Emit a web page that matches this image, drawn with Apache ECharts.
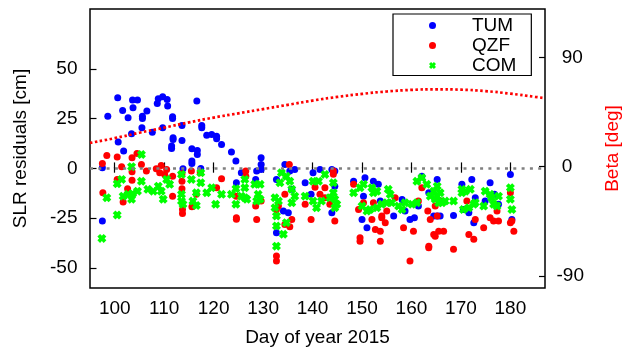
<!DOCTYPE html>
<html>
<head>
<meta charset="utf-8">
<script src="https://cdn.jsdelivr.net/npm/echarts@6/dist/echarts.min.js"></script>
<style>
  html, body { margin: 0; padding: 0; background: #fff; }
  #slrChart { width: 631px; height: 351px; }
</style>
</head>
<body>
<div id="slrChart"></div>
<script>
// ---- data ----
var dayTicks = [100, 110, 120, 130, 140, 150, 160, 170, 180];
var cmTicks = [-50, -25, 0, 25, 50];
var betaTicks = [-90, 0, 90];

// [day of year, residual cm]
var tumData = [
    [97.5, -26.4], [97.5, 0.3], [98.6, 26.2], [100.6, 35.5], [100.7, 13.2], [101.6, 29.1], [101.8, 8.7],
    [102.7, 25.4], [103.4, 17.4], [103.6, 34.3], [103.7, 30.4], [104.6, 34.3], [105.5, 20.4], [105.6, 26.2],
    [105.6, 25], [106.5, 28.8], [107.6, 18.2], [108.6, 32.6], [108.8, 35], [109.7, 36], [109.7, 20.4],
    [110.6, 34.6], [110.7, 31.3], [111.7, 25.9], [111.7, 25], [111.8, 15.4], [111.8, 14.5], [111.5, 11.2],
    [111.5, 10], [113.6, 21.6], [113.6, 14], [113.8, -0.2], [115.6, 9.9], [115.6, 3.7], [115.6, 2.5],
    [116.6, 33.8], [116.7, 9], [116.7, 7], [117.4, 0], [117.6, 21.6], [117.6, 20.4], [118.6, 16.6],
    [119.6, 17], [120.6, 16.2], [120.6, 14.9], [121.6, 12], [123.6, 8.2], [124.5, 3.7], [124.6, -7.2],
    [125.6, -2.2], [128.5, -5.5], [128.7, -1.3], [129.6, 5.4], [129.6, 2], [129.6, -0.5], [132.7, -5.5],
    [132.7, -32.3], [134.1, -21.4], [134.4, 2], [135.1, -22.2], [135.4, -1.3], [135.8, -10.5], [136.4, -0.5],
    [138.5, -7.2], [139.7, -13], [140.1, -2.2], [141.5, -0.5], [143.9, -0.5], [143.9, -22.2], [144.5, -1.3],
    [144.5, -8.9], [148.3, -6.4], [150.6, -4.7], [150.3, -13.9], [152.3, -6.4], [153.3, -8], [150, -25.6],
    [151, -29.8], [153.7, -16.4], [156.4, -23.9], [158.1, -15.6], [158.7, -21.4], [159.7, -25.6], [160.6, -24.7],
    [161.4, -18.9], [162.1, -3.9], [163.5, -12.2], [164.5, -23.9], [165.2, -5.5], [165.2, -23.9], [165.8, -23.9],
    [165.8, -16.4], [172.2, -5.5], [170.2, -8], [168.5, -23.6], [171.6, -22.2], [172.9, -14.7], [172.6, -27.2],
    [170.5, -20.6], [175.9, -7.2], [174.9, -16.4], [177.6, -18], [180, -3], [180.3, -25.6], [176.8, -13]
];
var qzfData = [
    [97.5, 2.5], [98.4, 6.5], [97.6, -12.2], [100.5, 5.7], [101.4, 0.9], [100.5, -5.5], [101.7, -16.9],
    [102.6, -10.2], [103.5, 5.4], [103.5, -1.7], [103.5, -5.9], [104.5, 7.5], [105.4, 2], [106.4, -1.3],
    [108.4, -0.2], [109.4, 1.5], [110.5, -0.5], [109.1, -2.2], [110.1, -3], [111.7, -3.9], [111.7, -13.9],
    [113.6, -2.7], [113.6, -6.4], [113.6, -10.2], [113.7, -20.6], [113.7, -22.6], [115.5, -1.3], [115.6, -19.2],
    [117.3, -2.2], [116.5, -13], [121.6, -5.2], [120.6, -9.7], [124.6, -13.9], [124.6, -24.7], [124.6, -25.5],
    [126.5, -1.3], [126.5, -3.9], [128.7, -25.6], [128.5, -18.9], [129.6, -16.4], [133.1, -18.9], [132.7, -20.6],
    [134.4, -13], [135.3, 2], [135.8, -25.6], [135.4, -29.3], [134.4, -28.1], [132.7, -44], [132.7, -46.5],
    [138.5, -18], [139.7, -25.6], [141.5, -13], [142.5, -9.7], [142.5, -14.7], [144.2, -1.3], [144.2, -2.9],
    [144.5, -26.4], [143.5, -18], [140.5, -9.5], [148.3, -8], [149.3, -20.6], [149.6, -34.8], [149.6, -36.5],
    [150.3, -17.2], [152, -25.6], [152.3, -17.2], [152.7, -30.6], [153.7, -31.5], [153.7, -36.5], [154, -23.9],
    [154, -24.7], [154.7, -27.2], [155, -21.4], [156.7, -14.7], [158.4, -29.8], [159.7, -46.5], [160.4, -31.5],
    [161.4, -16.4], [162.1, -9.7], [163.3, -21.4], [163.5, -39], [163.5, -39.8], [163.8, -25.6], [164.5, -33.1],
    [164.8, -34], [164.8, -18.9], [165.2, -23.9], [165.8, -16.4], [165.5, -31.5], [166.5, -31.5], [168.5, -40.6],
    [171.6, -33.1], [172.6, -35.6], [171.2, -16.4], [172.9, -25.6], [174.6, -29.8], [175.9, -24.7], [176.6, -26.4],
    [177.6, -26.4], [177.3, -21.4], [180, -27.2], [180.7, -31.5], [180.3, -26.4], [180, -12.2]
];
var comData = [
    [97.4, -35.1], [98.4, -14.7], [100.5, -23.4], [100.5, -7.7], [101.4, -5.5], [101.7, -13.9], [102.7, -13],
    [103.4, -15.5], [103.6, -12.7], [103.4, 0.9], [104.6, -11.4], [105.4, 7], [105.4, -6.4], [106.7, -10.5],
    [107.8, -11.4], [108.8, -8.9], [109.4, -11.4], [110.5, -5.5], [111.1, -8], [109.8, -15.5], [113.5, -3],
    [113.5, -13], [113.5, -16.4], [113.8, -18], [115.5, -5.5], [115.8, -16.4], [117.4, -2.2], [117.4, -7.2],
    [116.5, -12.2], [116.5, -18.6], [118.6, -12.2], [119.6, -9.7], [120.4, -18], [121.6, -13], [123.6, -13],
    [124.5, -10.2], [124.5, -18], [125.6, -13.9], [126.3, -5.5], [126.3, -9.7], [126.3, -14.7], [126.7, -15.5],
    [128.3, -8], [129.4, -8], [129, -13], [128.7, -16.4], [129.4, -15.5], [132.4, -14.7], [132.4, -19.7],
    [132.7, -23.9], [132.7, -28.9], [132.7, -39], [133.1, -16.4], [133.7, -2.2], [134.7, -3.9], [133.4, -7.2],
    [135.4, -6.4], [135.8, -10.5], [135.8, -17.2], [134.7, -27.2], [134.1, -33], [136.4, -13.9], [138.5, -13.9],
    [140.1, -6.4], [141.2, -6.4], [142.5, -3], [140.1, -16.4], [140.8, -19.7], [141.8, -16.4], [144.2, -7.2],
    [144.2, -12.2], [144.5, -15.5], [144.5, -19.7], [143.5, -14.7], [144.9, -18], [148.3, -12.2], [149.6, -9.7],
    [150.3, -8], [150, -18.9], [151, -21.4], [152, -9.7], [153, -11.4], [152.3, -12.2], [151.6, -20.6],
    [153, -19.7], [154, -18], [155, -17.2], [155.7, -13], [156, -17.2], [155.3, -10.5], [157.4, -18.9],
    [158.1, -20.6], [158.7, -17.2], [160.1, -18], [161.1, -17.2], [161.1, -6.4], [162.1, -4.7], [163.1, -8],
    [163.8, -13.9], [164.5, -11.4], [164.8, -15.5], [165.5, -17.2], [165.2, -8.9], [165.2, -13.9], [165.8, -12.2],
    [166.2, -17.2], [166.8, -16.4], [168.5, -16.4], [170.2, -10.5], [170.9, -11.4], [171.9, -10.5], [170.2, -12.2],
    [170.5, -20.6], [171.6, -19.7], [172.6, -18], [172.9, -17.2], [174.6, -18.9], [174.9, -11.4], [175.9, -13],
    [176.2, -14.7], [177.6, -13.9], [176.6, -18], [177.3, -18.9], [180, -9.7], [180, -15.5], [180.3, -20.6]
];
// beta angle [deg] along the dotted red curve
var betaDays = [95, 100, 105, 110, 115, 120, 125, 130, 135, 140, 145, 150, 155, 160, 165, 170, 175, 180, 185, 187];
var betaDeg = [19.6, 23.5, 28, 32.2, 36.5, 40.5, 44, 47.5, 51, 54.5, 57.5, 60, 62, 63.3, 63.8, 63.5, 62.3, 60.2, 57.6, 56.5];

var FONT = 'Liberation Sans';
// chunky gnuplot-style "x" point
var crossPath = 'path://M0,3 L3,0 L5,2 L7,0 L10,3 L8,5 L10,7 L7,10 L5,8 L3,10 L0,7 L2,5 Z';

var chart = echarts.init(document.getElementById('slrChart'));
var option = {
    animation: false,
    textStyle: { fontFamily: FONT },
    grid: {
        left: 90, right: 86, top: 9, bottom: 63,
        show: true, borderColor: '#000', borderWidth: 1.5
    },
    legend: {
        data: ['TUM', 'QZF', 'COM'],
        orient: 'vertical',
        left: 393, top: 14,
        itemWidth: 7, itemHeight: 7, itemGap: 0,
        padding: [1.5, 15, 0, 36],
        borderColor: '#000', borderWidth: 1.2,
        textStyle: { fontSize: 19, lineHeight: 20, color: '#000', padding: [0, 0, 0, 31] }
    },
    xAxis: [{
        type: 'value', min: 95, max: 187,
        axisLine: { show: false },
        splitLine: { show: false },
        axisTick: { inside: true, length: 6, customValues: dayTicks, lineStyle: { color: '#000', width: 1.2 } },
        axisLabel: { customValues: dayTicks, fontSize: 19, color: '#000', margin: 11 }
    }, {
        type: 'value', min: 95, max: 187, position: 'top',
        axisLine: { show: false },
        splitLine: { show: false },
        axisTick: { inside: true, length: 6, customValues: dayTicks, lineStyle: { color: '#000', width: 1.2 } },
        axisLabel: { show: false }
    }],
    yAxis: [{
        type: 'value', min: -60, max: 80,
        axisLine: { show: false },
        splitLine: { show: false },
        axisTick: { inside: true, length: 6.5, customValues: cmTicks, lineStyle: { color: '#000', width: 1.2 } },
        axisLabel: { customValues: cmTicks, fontSize: 19, color: '#000', margin: 12.5 }
    }, {
        type: 'value', min: -100, max: 130, position: 'right',
        axisLine: { show: false },
        splitLine: { show: false },
        axisTick: { inside: true, length: 6, customValues: betaTicks, lineStyle: { color: '#000', width: 1.2 } },
        axisLabel: {
            customValues: betaTicks, fontSize: 19, color: '#000', margin: 11.5,
            formatter: function (v) { return v >= 0 ? ' ' + v : '' + v; }
        }
    }],
    graphic: [{
        type: 'text', x: 21, y: 148.5, rotation: Math.PI / 2,
        style: { text: 'SLR residuals [cm]', font: '19px "Liberation Sans"', fill: '#000', align: 'center', verticalAlign: 'middle' }
    }, {
        type: 'text', x: 613, y: 148.5, rotation: Math.PI / 2,
        style: { text: 'Beta [deg]', font: '19px "Liberation Sans"', fill: '#ff0000', align: 'center', verticalAlign: 'middle' }
    }, {
        type: 'text', x: 317.5, y: 338,
        style: { text: 'Day of year 2015', font: '19px "Liberation Sans"', fill: '#000', align: 'center', verticalAlign: 'middle' }
    }],
    series: [{
        name: 'zero',
        type: 'line',
        data: [],
        z: 1,
        markLine: {
            silent: true,
            symbol: ['none', 'none'],
            label: { show: false },
            lineStyle: { color: '#808080', width: 2.5, type: [3, 5.3] },
            data: [{ yAxis: 0 }]
        }
    }, {
        name: 'TUM',
        type: 'scatter',
        data: tumData,
        symbol: 'circle',
        symbolSize: 7,
        itemStyle: { color: '#0000ff', opacity: 1 }
    }, {
        name: 'QZF',
        type: 'scatter',
        data: qzfData,
        symbol: 'circle',
        symbolSize: 7,
        itemStyle: { color: '#ff0000', opacity: 1 }
    }, {
        name: 'COM',
        type: 'scatter',
        data: comData,
        symbol: crossPath,
        symbolSize: 9,
        itemStyle: { color: '#00ff00', opacity: 1 }
    }, {
        name: 'Beta',
        type: 'line',
        yAxisIndex: 1,
        smooth: true,
        symbol: 'none',
        z: 4,
        data: betaDays.map(function (d, i) { return [d, betaDeg[i]]; }),
        lineStyle: { color: '#ff0000', width: 2.7, type: [2.5, 2.5] }
    }]
};
chart.setOption(option);
</script>
</body>
</html>
